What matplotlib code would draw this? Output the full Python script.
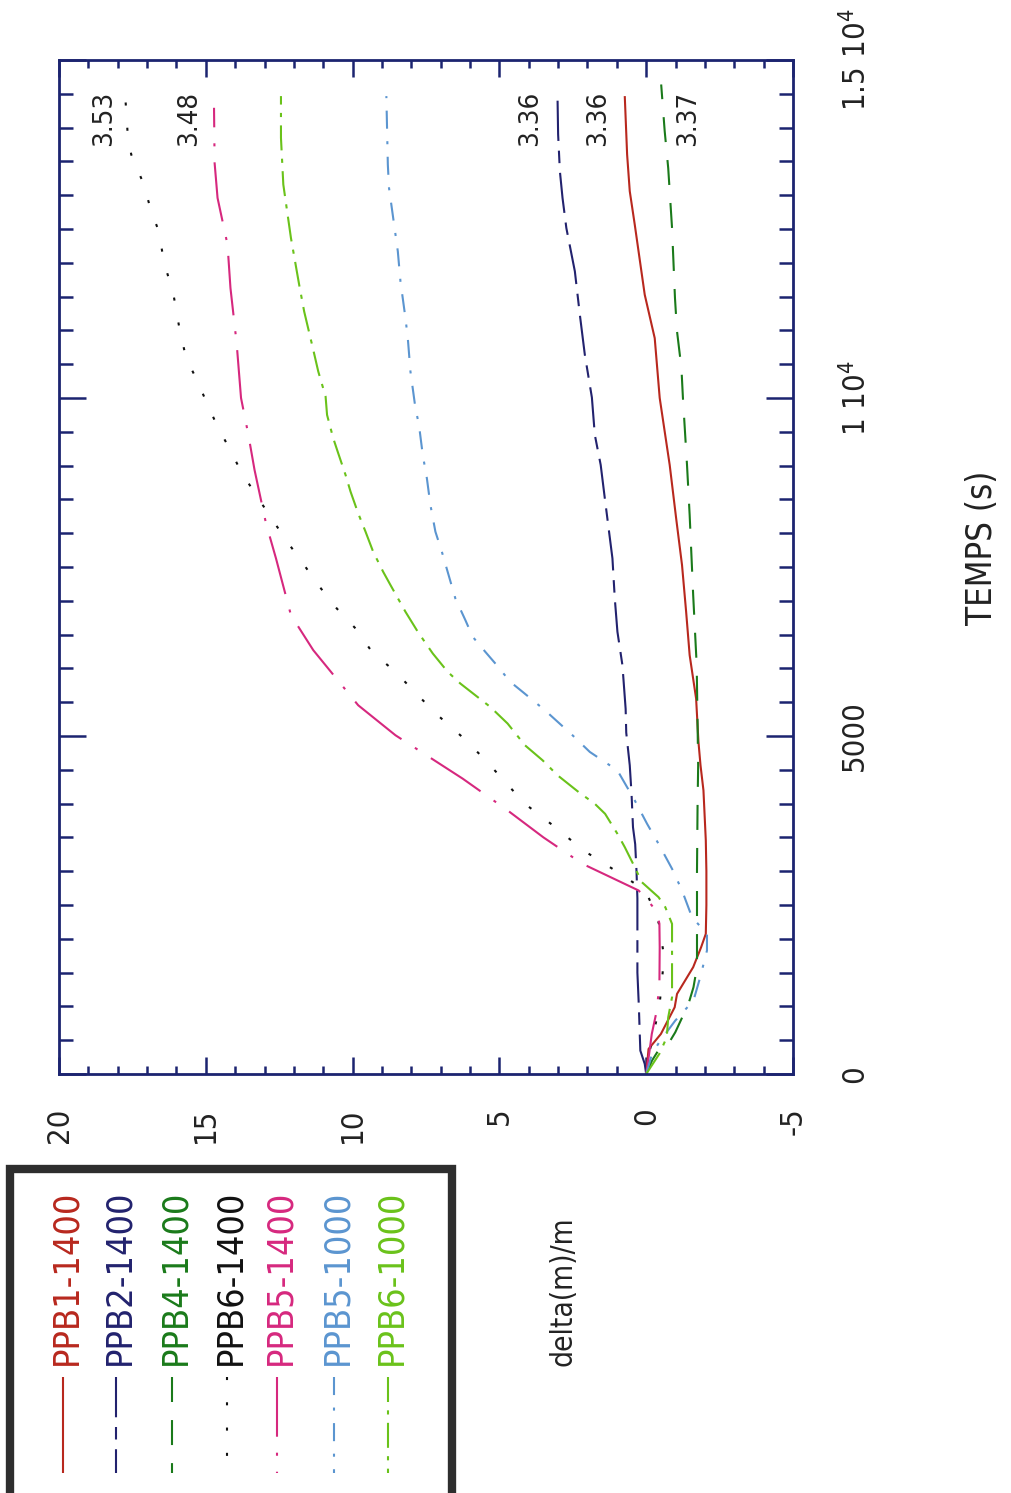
import matplotlib
matplotlib.use('Agg')
import matplotlib.pyplot as plt
from matplotlib import font_manager as fm
from matplotlib.lines import Line2D
from matplotlib.patches import Rectangle
from matplotlib.ticker import FixedLocator, MultipleLocator, FixedFormatter

# ---------------- font choice (narrow sans) ----------------
_fonts = [(f.name, str(f.stretch)) for f in fm.fontManager.ttflist]
if any(n == 'Liberation Sans Narrow' for n, s in _fonts):
    FAM, STRETCH, K = 'Liberation Sans Narrow', 'normal', 1.0
elif any(n == 'DejaVu Sans' and 'condensed' in s for n, s in _fonts):
    FAM, STRETCH, K = 'DejaVu Sans', 'condensed', 0.86
else:
    FAM, STRETCH, K = 'Liberation Sans', 'normal', 0.82

plt.rcParams['font.family'] = [FAM, 'DejaVu Sans']
plt.rcParams['font.stretch'] = STRETCH
plt.rcParams['mathtext.default'] = 'regular'
plt.rcParams['lines.scale_dashes'] = False

# ---------------- data ----------------
series_names = ['PPB1-1400', 'PPB2-1400', 'PPB4-1400', 'PPB6-1400',
                'PPB5-1400', 'PPB5-1000', 'PPB6-1000']

ppb1_1400_t = [0, 370, 592, 987, 1185, 1580, 1875, 2073, 2500, 3000, 3456, 4195, 4566,
               4912, 5554, 6196, 6838, 7529, 8220, 9010, 9504, 10000, 10886, 11528,
               12565, 13059, 13602, 14466]
ppb1_1400_d = [0, -0.08, -0.5, -0.97, -1.05, -1.6, -1.87, -2.03, -2.05, -2.05, -2.03, -1.95,
               -1.85, -1.78, -1.70, -1.48, -1.36, -1.22, -1.02, -0.80, -0.63, -0.46, -0.29,
               0.05, 0.39, 0.56, 0.65, 0.73]

ppb2_1400_t = [0, 150, 346, 600, 1000, 1500, 2000, 2600, 3000, 3400, 3650, 4150, 4566,
               5050, 5400, 6048, 6542, 7035, 7628, 8517, 9010, 9455, 10008, 10639, 11232,
               11874, 12515, 12960, 13355, 13900, 14441]
ppb2_1400_d = [0, 0.05, 0.2, 0.22, 0.25, 0.3, 0.3, 0.3, 0.33, 0.375, 0.45, 0.5, 0.56,
               0.68, 0.7, 0.81, 0.98, 1.07, 1.15, 1.41, 1.55, 1.75, 1.85, 2.09, 2.26,
               2.43, 2.72, 2.85, 2.94, 3.0, 3.02]

ppb4_1400_t = [0, 200, 395, 494, 617, 1037, 1283, 1580, 2000, 3000, 4000, 4566, 6048,
               7085, 8270, 9010, 10008, 10442, 10985, 11479, 12515, 13400, 13947, 14638]
ppb4_1400_d = [0, -0.2, -0.48, -0.82, -0.99, -1.44, -1.61, -1.73, -1.73, -1.73, -1.75,
               -1.77, -1.72, -1.6, -1.48, -1.39, -1.25, -1.2, -1.05, -0.98, -0.88, -0.75,
               -0.63, -0.51]

ppb6_1400_t = [0, 300, 700, 1000, 1358, 1728, 2200, 2400, 2715, 3011, 3308, 3652, 3997,
               4318, 4665, 5011, 5307, 5604, 5949, 6245, 6591, 6887, 7233, 7578, 7899,
               8566, 8912, 9208, 9578, 9900, 10245, 10590, 11010, 11528, 12022, 12466,
               12762, 13158, 13602, 13898, 14244, 14500]
ppb6_1400_d = [0, -0.1, -0.3, -0.45, -0.53, -0.61, -0.45, -0.3, 0.03, 1.06, 2.14, 3.1,
               4.13, 4.8, 5.52, 6.33, 7.10, 7.78, 8.54, 9.34, 9.90, 10.54, 11.17, 11.73,
               12.27, 13.29, 13.80, 14.14, 14.6, 14.94, 15.28, 15.67, 15.89, 16.1, 16.43,
               16.6, 16.86, 17.11, 17.54, 17.66, 17.71, 17.75]

ppb5_1400_t = [0, 296, 592, 938, 1333, 1875, 2221, 2393, 2600, 2715, 3109, 3500, 3899,
               4369, 5011, 5455, 6270, 6788, 7628, 8146, 8936, 9455, 10000, 10812, 11627,
               12268, 12960, 13478, 14293]
ppb5_1400_d = [0, -0.1, -0.19, -0.36, -0.45, -0.46, -0.45, -0.37, 0.0, 0.26, 2.17, 3.5,
               4.72, 6.25, 8.54, 9.81, 11.34, 12.1, 12.61, 12.95, 13.34, 13.55, 13.8,
               13.95, 14.16, 14.26, 14.6, 14.7, 14.72]

ppb5_1000_t = [0, 300, 494, 790, 1086, 1432, 1827, 2073, 2320, 2715, 3036, 3405, 3701,
               4047, 4491, 4764, 5011, 5381, 5653, 5801, 6048, 6245, 6468, 6715, 7035,
               7726, 8023, 8418, 8812, 9158, 9603, 9850, 10393, 10886, 11183, 11725,
               12170, 13109, 13454, 14466]
ppb5_1000_d = [0, -0.2, -0.48, -0.99, -1.61, -1.84, -2.07, -2.07, -1.56, -1.22, -0.88,
               -0.42, -0.03, 0.39, 0.98, 1.92, 2.51, 3.45, 4.21, 4.63, 5.09, 5.48, 5.91,
               6.16, 6.5, 6.96, 7.18, 7.35, 7.47, 7.61, 7.74, 7.86, 8.03, 8.12, 8.2,
               8.37, 8.46, 8.76, 8.8, 8.85]

ppb6_1000_t = [0, 300, 543, 839, 1135, 1728, 2221, 2468, 2616, 2838, 3060, 3356, 3553,
               3849, 3997, 4170, 4419, 4641, 4863, 5184, 5430, 5776, 5949, 6221, 6542,
               6838, 7233, 7430, 7726, 8023, 8294, 8615, 8862, 9183, 9405, 9750, 10022,
               10393, 10713, 11281, 11676, 12367, 13158, 13849, 14466]
ppb6_1000_d = [0, -0.45, -0.7, -0.75, -0.88, -0.88, -0.88, -0.65, -0.42, 0.15, 0.39,
               0.73, 0.98, 1.4, 1.75, 2.3, 3.02, 3.53, 4.13, 4.72, 5.31, 6.33, 6.76,
               7.27, 7.78, 8.2, 8.71, 8.96, 9.30, 9.56, 9.81, 10.07, 10.24, 10.49,
               10.66, 10.87, 10.92, 11.17, 11.34, 11.65, 11.82, 12.1, 12.36, 12.44, 12.44]

series_t = [ppb1_1400_t, ppb2_1400_t, ppb4_1400_t, ppb6_1400_t,
            ppb5_1400_t, ppb5_1000_t, ppb6_1000_t]
series_d = [ppb1_1400_d, ppb2_1400_d, ppb4_1400_d, ppb6_1400_d,
            ppb5_1400_d, ppb5_1000_d, ppb6_1000_d]

end_labels = ['3.53', '3.48', '3.36', '3.36', '3.37']
end_label_delta = [18.45, 15.57, 3.94, 1.65, -1.41]
end_label_time = [14130, 14130, 14130, 14130, 14130]

delta_ticks = [20, 15, 10, 5, 0, -5]
delta_ticklabels = ['20', '15', '10', '5', '0', '-5']
time_ticks = [0, 5000, 10000, 15000]
time_ticklabels = ['0', '5000', r'$1\ 10^{4}$', r'$1.5\ 10^{4}$']

# ---------------- styles ----------------
colors = ['#b8281e', '#22226e', '#1a7a1a', '#111111', '#d6287e', '#5b95d0', '#6ac21a']
linestyles = ['-',
              (0, (29, 7, 9, 7)),
              (0, (18, 13)),
              (0, (2.2, 16)),
              (0, (43, 11.5, 2.2, 11.5)),
              (0, (13, 9, 2.2, 9)),
              (0, (18, 6, 3, 6))]

W, H = 1011, 1493
fig = plt.figure(figsize=(W / 100, H / 100), dpi=100)
fig.patch.set_facecolor('white')

ax_l, ax_r, ax_t, ax_b = 59, 793, 60, 1074
ax = fig.add_axes([ax_l / W, 1 - ax_b / H, (ax_r - ax_l) / W, (ax_b - ax_t) / H])
ax.set_facecolor('white')

frame_c = '#1c2470'
for name, t, d, c, ls in zip(series_names, series_t, series_d, colors, linestyles):
    ax.plot(d, t, color=c, lw=1.5, linestyle=ls, solid_capstyle='butt',
            dash_capstyle='butt')

for s, dx, ty in zip(end_labels, end_label_delta, end_label_time):
    ax.text(dx, ty, s, rotation=90, ha='center', va='center',
            fontsize=23 * K, color='#222222')

ax.set_xlim(20, -5)
ax.set_ylim(0, 15000)

ax.xaxis.set_major_locator(FixedLocator(delta_ticks))
ax.xaxis.set_major_formatter(FixedFormatter(delta_ticklabels))
ax.xaxis.set_minor_locator(MultipleLocator(1))
ax.yaxis.set_major_locator(FixedLocator(time_ticks))
ax.yaxis.set_major_formatter(FixedFormatter(time_ticklabels))
ax.yaxis.set_minor_locator(MultipleLocator(500))

for sp in ax.spines.values():
    sp.set_color(frame_c)
    sp.set_linewidth(2.0)

ax.tick_params(axis='x', which='both', direction='in', top=True, bottom=True,
               color=frame_c, width=1.8, labelrotation=90, labelsize=26 * K,
               pad=24, labelcolor='#222222')
ax.tick_params(axis='x', which='major', length=12)
ax.tick_params(axis='x', which='minor', length=5.8)
ax.tick_params(axis='y', which='both', direction='in', left=True, right=True,
               labelleft=False, labelright=True, color=frame_c, width=1.8,
               labelrotation=90, labelsize=26 * K, pad=34, labelcolor='#222222')
ax.tick_params(axis='y', which='major', length=19.5)
ax.tick_params(axis='y', which='minor', length=10)

for tk in ax.yaxis.get_major_ticks():
    tk.label2.set_va('center')
    tk.label2.set_ha('left')

# axis titles
fig.text(563 / W, 1 - 1291 / H, 'delta(m)/m', rotation=90, ha='center', va='center',
         fontsize=25 * K, color='#222222')
fig.text(982 / W, 1 - 548 / H, 'TEMPS (s)', rotation=90, ha='center', va='center',
         fontsize=29 * K, color='#222222')

# ---------------- legend (rotated, drawn manually) ----------------
leg_x = [63, 116, 172, 227, 277, 334, 388]
fig.add_artist(Rectangle((10 / W, -0.05), (452 - 10) / W, (H - 1169) / H + 0.05,
                         transform=fig.transFigure, fill=False, ec='#2e2e2e', lw=6))
for name, c, ls, x in zip(series_names, colors, linestyles, leg_x):
    fig.add_artist(Line2D([x / W, x / W], [1 - 1377 / H, 1 - 1473 / H],
                          transform=fig.transFigure, color=c, lw=1.5, linestyle=ls,
                          solid_capstyle='butt', dash_capstyle='butt'))
    fig.text((x + 3) / W, 1 - 1365 / H, name, rotation=90, ha='center', va='bottom',
             fontsize=30 * K, color=c)

fig.savefig('out.png', dpi=100, facecolor='white')
